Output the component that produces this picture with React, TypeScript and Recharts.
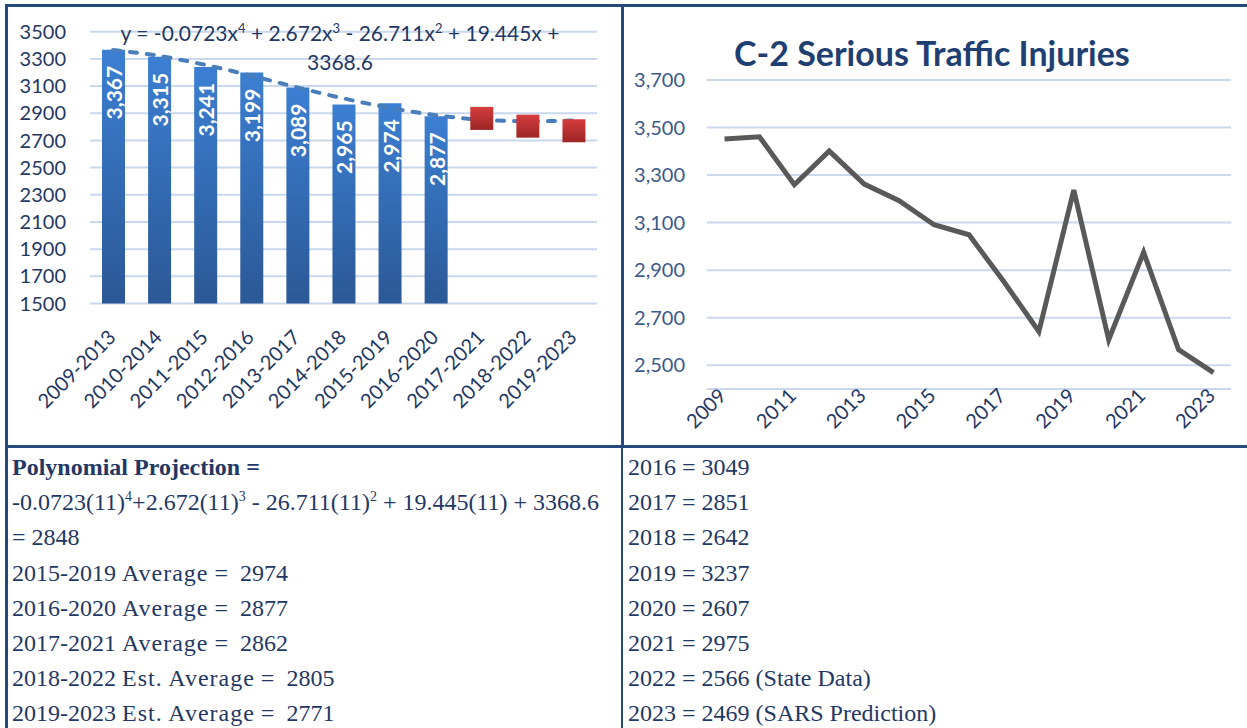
import React from 'react';
import { ComposedChart, LineChart, Bar, Line, XAxis, YAxis, CartesianGrid, LabelList } from 'recharts';

// ---- Left chart data: 5-year averages ----
const periods = ['2009-2013', '2010-2014', '2011-2015', '2012-2016', '2013-2017', '2014-2018', '2015-2019', '2016-2020', '2017-2021', '2018-2022', '2019-2023'];
const averages: (number | null)[] = [3367, 3315, 3241, 3199, 3089, 2965, 2974, 2877, null, null, null];
const projected: (number | null)[] = [null, null, null, null, null, null, null, null, 2862, 2805, 2771];
const trendline = [3365, 3322, 3256, 3176, 3090, 3009, 2940, 2886, 2852, 2841, 2846];
const leftTicks = [1500, 1700, 1900, 2100, 2300, 2500, 2700, 2900, 3100, 3300, 3500];

// ---- Right chart data: annual serious injuries ----
const years = ['2009', '2010', '2011', '2012', '2013', '2014', '2015', '2016', '2017', '2018', '2019', '2020', '2021', '2022', '2023'];
const injuries = [3452, 3461, 3259, 3401, 3262, 3192, 3091, 3049, 2851, 2642, 3237, 2607, 2975, 2566, 2469];
const rightTicks = [2500, 2700, 2900, 3100, 3300, 3500, 3700];

// ---- Text rows ----
const rightRows = ['2016 = 3049', '2017 = 2851', '2018 = 2642', '2019 = 3237', '2020 = 2607', '2021 = 2975', '2022 = 2566 (State Data)', '2023 = 2469 (SARS Prediction)'];
const avgRows = [
  { label: '2015-2019', word: 'Average', value: '2974' },
  { label: '2016-2020', word: 'Average', value: '2877' },
  { label: '2017-2021', word: 'Average', value: '2862' },
  { label: '2018-2022', word: 'Est. Average', value: '2805' },
  { label: '2019-2023', word: 'Est. Average', value: '2771' },
];

const leftData = periods.map((p, i) => ({ period: p, avg: averages[i], proj: projected[i], trend: trendline[i] }));
const rightData = years.map((y, i) => ({ year: y, value: injuries[i] }));

const NAVY = '#1F3864';
const SANS = 'Lato, "Open Sans", sans-serif';
const SERIF = '"Liberation Serif", "DejaVu Serif", serif';
const GRID = '#C9D8EC';

const BarLabel = (p: any) => {
  const { x, y, width, value } = p;
  if (value == null) return null;
  const cx = Number(x) + Number(width) / 2;
  const ty = Number(y) + 16;
  return (
    <text x={cx} y={ty} transform={`rotate(-90 ${cx} ${ty})`} textAnchor="end" dominantBaseline="central"
      fill="#ffffff" fontFamily={SANS} fontWeight="bold" fontSize={21}>
      {Number(value).toLocaleString('en-US')}
    </text>
  );
};

const LeftTick = (p: any) => {
  const { x, y, payload } = p;
  const ax = Number(x) + 4;
  const ay = Number(y) + 35;
  return (
    <text x={ax} y={ay} transform={`rotate(-45 ${ax} ${ay})`} textAnchor="end" fill={NAVY} fontFamily={SANS} fontSize={20}>
      {payload.value}
    </text>
  );
};

const RightTick = (p: any) => {
  const { x, y, payload } = p;
  const ax = Number(x) + 3;
  const ay = Number(y) + 8;
  return (
    <text x={ax} y={ay} transform={`rotate(-45 ${ax} ${ay})`} textAnchor="end" fill={NAVY} fontFamily={SANS} fontSize={20}>
      {payload.value}
    </text>
  );
};

const Square = (p: any) => {
  const { cx, cy, index } = p;
  if (cy == null || cx == null || p.value == null) return <g key={`sq-${index}`} />;
  return <rect key={`sq-${index}`} x={cx - 11.5} y={cy - 11.5} width={23} height={23} fill="url(#redGrad)" />;
};

const rowTop = (i: number) => 467.5 + i * 35.2 - 17.5;
const supStyle = { fontSize: 14, verticalAlign: 'super', lineHeight: 0 } as const;
const eqSup = { fontSize: 13, verticalAlign: 'super', lineHeight: 0 } as const;

export default function App() {
  return (
    <div style={{ position: 'absolute', left: 0, top: 0, width: 1247, height: 728, background: '#ffffff', overflow: 'hidden' }}>
      {/* Left chart */}
      <div style={{ position: 'absolute', left: 0, top: 0 }}>
        <ComposedChart width={622} height={445} data={leftData} margin={{ top: 31.7, right: 25, bottom: 41.5, left: 0 }}>
          <defs>
            <linearGradient id="barGrad" x1="0" y1="0" x2="0" y2="1">
              <stop offset="0%" stopColor="#3C7FD2" />
              <stop offset="100%" stopColor="#2B5896" />
            </linearGradient>
            <linearGradient id="redGrad" x1="0" y1="0" x2="0" y2="1">
              <stop offset="0%" stopColor="#D63C3C" />
              <stop offset="100%" stopColor="#9C2626" />
            </linearGradient>
          </defs>
          <CartesianGrid vertical={false} stroke={GRID} strokeWidth={2} />
          <XAxis dataKey="period" axisLine={false} tickLine={false} tickSize={0} tickMargin={0} interval={0} height={100} tick={<LeftTick />} />
          <YAxis domain={[1500, 3500]} ticks={leftTicks} interval={0} axisLine={false} tickLine={false} tickSize={0} tickMargin={24} width={90}
            tick={{ fill: NAVY, fontSize: 20, fontFamily: SANS }} />
          <Bar dataKey="avg" barSize={23} fill="url(#barGrad)" isAnimationActive={false}>
            <LabelList dataKey="avg" content={BarLabel} />
          </Bar>
          <Line dataKey="proj" stroke="none" dot={Square} activeDot={false} isAnimationActive={false} />
          <Line dataKey="trend" type="monotone" stroke="#4A7EBB" strokeWidth={4} strokeDasharray="7 10" strokeLinecap="round"
            dot={false} activeDot={false} isAnimationActive={false} />
        </ComposedChart>
      </div>

      {/* Trendline equation */}
      <div style={{ position: 'absolute', left: 90, top: 18, width: 500, textAlign: 'center', fontFamily: SANS, fontSize: 21, lineHeight: '29px', color: NAVY, whiteSpace: 'nowrap' }}>
        y = -0.0723x<sup style={eqSup}>4</sup> + 2.672x<sup style={eqSup}>3</sup> - 26.711x<sup style={eqSup}>2</sup> + 19.445x +
        <br />3368.6
      </div>

      {/* Right chart */}
      <div style={{ position: 'absolute', left: 622, top: 0 }}>
        <LineChart width={625} height={445} data={rightData} margin={{ top: 80, right: 16, bottom: 6, left: 0 }}>
          <CartesianGrid vertical={false} stroke={GRID} strokeWidth={2} />
          <XAxis dataKey="year" axisLine={false} tickLine={false} tickSize={0} tickMargin={0} interval={1} height={50}
            padding={{ left: 17.5, right: 17.5 }} tick={<RightTick />} />
          <YAxis domain={[2400, 3700]} ticks={rightTicks} interval={0} axisLine={false} tickLine={false} tickSize={0} tickMargin={22} width={85}
            tickFormatter={(v: number) => v.toLocaleString('en-US')} tick={{ fill: '#3A5A8C', fontSize: 20, fontFamily: SANS }} />
          <Line dataKey="value" stroke="#595959" strokeWidth={5} dot={false} activeDot={false} isAnimationActive={false} />
        </LineChart>
      </div>

      {/* Right chart title */}
      <div style={{ position: 'absolute', left: 734, top: 33, fontFamily: SANS, fontWeight: 'bold', fontSize: 34, lineHeight: '40px', color: '#1F3F73', whiteSpace: 'nowrap' }}>
        C-2 Serious Traffic Injuries
      </div>

      {/* Borders */}
      <div style={{ position: 'absolute', left: 5, top: 4, width: 1242, height: 3, background: '#244A7C' }} />
      <div style={{ position: 'absolute', left: 5, top: 4, width: 2.5, height: 724, background: '#244A7C' }} />
      <div style={{ position: 'absolute', left: 5, top: 444.5, width: 1242, height: 3, background: '#244A7C' }} />
      <div style={{ position: 'absolute', left: 620.5, top: 4, width: 3, height: 442, background: '#244A7C' }} />
      <div style={{ position: 'absolute', left: 621, top: 447, width: 2, height: 281, background: '#244A7C' }} />

      {/* Left text column */}
      <div style={{ position: 'absolute', left: 0, top: 0, fontFamily: SERIF, fontSize: 24, color: NAVY }}>
        <div style={{ position: 'absolute', left: 12, top: rowTop(0), lineHeight: '35px', whiteSpace: 'nowrap', fontWeight: 'bold' }}>Polynomial Projection =</div>
        <div style={{ position: 'absolute', left: 12, top: rowTop(1), lineHeight: '35px', whiteSpace: 'nowrap' }}>
          -0.0723(11)<sup style={supStyle}>4</sup>+2.672(11)<sup style={supStyle}>3</sup> - 26.711(11)<sup style={supStyle}>2</sup> + 19.445(11) + 3368.6
        </div>
        <div style={{ position: 'absolute', left: 12, top: rowTop(2), lineHeight: '35px', whiteSpace: 'nowrap' }}>= 2848</div>
        {avgRows.map((r, i) => (
          <div key={r.label} style={{ position: 'absolute', left: 12, top: rowTop(3 + i), lineHeight: '35px', whiteSpace: 'pre' }}>
            {r.label + ' '}<span style={{ letterSpacing: 1 }}>{r.word}</span>{' =  ' + r.value}
          </div>
        ))}
      </div>

      {/* Right text column */}
      <div style={{ position: 'absolute', left: 0, top: 0, fontFamily: SERIF, fontSize: 24, color: NAVY }}>
        {rightRows.map((t, i) => (
          <div key={t} style={{ position: 'absolute', left: 628, top: rowTop(i), lineHeight: '35px', whiteSpace: 'nowrap' }}>{t}</div>
        ))}
      </div>
    </div>
  );
}
